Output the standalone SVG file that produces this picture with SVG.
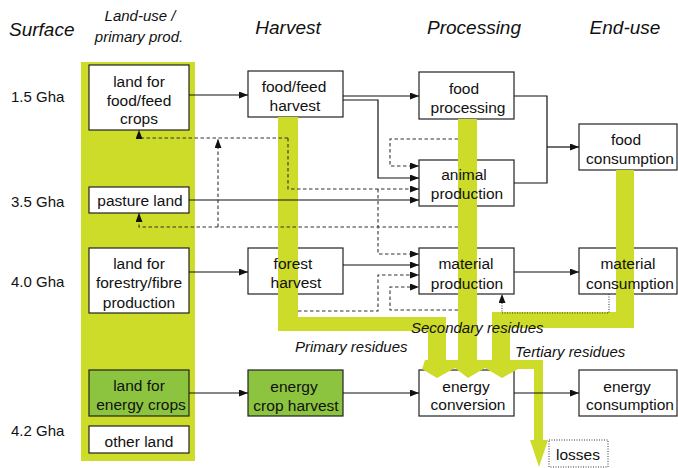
<svg xmlns="http://www.w3.org/2000/svg" width="678" height="468" viewBox="0 0 678 468">
<style>
.hdr{font-family:"Liberation Sans",Arial,sans-serif;font-style:italic;font-size:19px;fill:#111}
.sub{font-family:"Liberation Sans",Arial,sans-serif;font-style:italic;font-size:15px;fill:#111}
.gha{font-family:"Liberation Sans",Arial,sans-serif;font-size:15px;fill:#111}
.t{font-family:"Liberation Sans",Arial,sans-serif;font-size:15.5px;fill:#111;text-anchor:middle}
.res{font-family:"Liberation Sans",Arial,sans-serif;font-style:italic;font-size:15px;fill:#111}
.box{fill:#fff;stroke:#222;stroke-width:1.2}
.gbox{fill:#8cc43f;stroke:#222;stroke-width:1.2}
.band{fill:#cddc29}
.sol{fill:none;stroke:#111;stroke-width:1.2}
.dash{fill:none;stroke:#333;stroke-width:1.1;stroke-dasharray:3.5,2.5}
.dot{fill:none;stroke:#333;stroke-width:1;stroke-dasharray:1,1.5}
</style>
<defs>
<marker id="ah" viewBox="0 0 9 7" refX="9" refY="3.5" markerWidth="9" markerHeight="7" markerUnits="userSpaceOnUse" orient="auto">
<path d="M0,0 L9,3.5 L0,7 z" fill="#111"/>
</marker>
</defs>
<rect width="678" height="468" fill="#fff"/>

<g id="headers">
<text class="hdr" x="9" y="36">Surface</text>
<text class="sub" x="140" y="21" text-anchor="middle">Land-use /</text>
<text class="sub" x="139" y="42" text-anchor="middle">primary prod.</text>
<text class="hdr" x="288" y="34" text-anchor="middle">Harvest</text>
<text class="hdr" x="474" y="34" text-anchor="middle">Processing</text>
<text class="hdr" x="625" y="34" text-anchor="middle">End-use</text>
<text class="gha" x="11" y="102">1.5 Gha</text>
<text class="gha" x="11" y="207">3.5 Gha</text>
<text class="gha" x="11" y="287">4.0 Gha</text>
<text class="gha" x="11" y="436">4.2 Gha</text>
</g>

<rect id="landband" class="band" x="81" y="62" width="114" height="399"/>

<g id="boxes">
<rect class="box" x="89" y="65" width="100" height="65"/>
<rect class="box" x="89" y="187" width="100" height="26"/>
<rect class="box" x="89" y="248" width="100" height="65"/>
<rect class="gbox" x="89" y="370" width="100" height="46"/>
<rect class="box" x="89" y="426" width="100" height="27"/>
<rect class="box" x="248" y="71" width="95" height="46"/>
<rect class="box" x="248" y="248" width="95" height="46"/>
<rect class="gbox" x="248" y="370" width="95" height="46"/>
<rect class="box" x="419" y="72" width="95" height="47"/>
<rect class="box" x="419" y="160" width="95" height="46"/>
<rect class="box" x="419" y="248" width="95" height="46"/>
<rect class="box" x="419" y="370" width="95" height="46"/>
<rect class="box" x="579" y="124" width="98" height="46"/>
<rect class="box" x="579" y="248" width="98" height="46"/>
<rect class="box" x="579" y="370" width="98" height="46"/>
<rect class="dot" x="549" y="440" width="59" height="27"/>
</g>

<g id="residue-bands">
<path class="band" d="M278,117 H298 V317 H446 V362 H428 V331 H278 Z"/>
<rect class="band" x="458" y="119" width="19" height="243"/>
<path class="band" d="M616,170 H634 V328 H510 V362 H492 V312 H616 Z"/>
<path class="band" d="M425,360 H543 V440 H548 L539,467 L530,440 H534 V369 H518 L502,378 L485,368 L468,378 L455,368 L437,378 L422,369 Z"/>
</g>

<g id="connectors">
<path class="sol" d="M189,95 H248" marker-end="url(#ah)"/>
<path class="sol" d="M343,96 H419" marker-end="url(#ah)"/>
<path class="sol" d="M343,100 H378 V178 H419" marker-end="url(#ah)"/>
<path class="sol" d="M189,200 H419" marker-end="url(#ah)"/>
<path class="sol" d="M514,96 H547 V183 H514"/>
<path class="sol" d="M547,147 H579" marker-end="url(#ah)"/>
<path class="sol" d="M189,272 H248" marker-end="url(#ah)"/>
<path class="sol" d="M343,265 H419" marker-end="url(#ah)"/>
<path class="sol" d="M514,272 H579" marker-end="url(#ah)"/>
<path class="sol" d="M189,393 H248" marker-end="url(#ah)"/>
<path class="sol" d="M343,393 H419" marker-end="url(#ah)"/>
<path class="sol" d="M514,393 H579" marker-end="url(#ah)"/>
<path class="dash" d="M288,138 H139 V130" marker-end="url(#ah)"/>
<path class="dash" d="M288,138 V189 H419" marker-end="url(#ah)"/>
<path class="dash" d="M458,227 H139 V213" marker-end="url(#ah)"/>
<path class="dash" d="M218,227 V139" marker-end="url(#ah)"/>
<path class="dash" d="M458,139 H390 V166 H419" marker-end="url(#ah)"/>
<path class="dash" d="M378,189 V254 H419" marker-end="url(#ah)"/>
<path class="dash" d="M298,311 H378 V275 H419" marker-end="url(#ah)"/>
<path class="dash" d="M458,310 H390 V287 H419" marker-end="url(#ah)"/>
<path class="dot" d="M609,294 V313 H502 V294" marker-end="url(#ah)"/>
</g>

<g id="labels">
<text class="t" x="139" y="86.5">land for</text>
<text class="t" x="139" y="105.5">food/feed</text>
<text class="t" x="139" y="123.5">crops</text>
<text class="t" x="140" y="205.5">pasture land</text>
<text class="t" x="139" y="268.5">land for</text>
<text class="t" x="139" y="288">forestry/fibre</text>
<text class="t" x="139" y="307.5">production</text>
<text class="t" x="139" y="390.5">land for</text>
<text class="t" x="141" y="409.5">energy crops</text>
<text class="t" x="139" y="446.5">other land</text>
<text class="t" x="294" y="91.5">food/feed</text>
<text class="t" x="295" y="110.5">harvest</text>
<text class="t" x="293" y="268.5">forest</text>
<text class="t" x="296" y="287.5">harvest</text>
<text class="t" x="294" y="391.5">energy</text>
<text class="t" x="296" y="410.5">crop harvest</text>
<text class="t" x="464" y="93.5">food</text>
<text class="t" x="468" y="112.5">processing</text>
<text class="t" x="464" y="179.5">animal</text>
<text class="t" x="467" y="198.5">production</text>
<text class="t" x="466" y="268.5">material</text>
<text class="t" x="467" y="288.5">production</text>
<text class="t" x="466" y="391.5">energy</text>
<text class="t" x="468" y="409.5">conversion</text>
<text class="t" x="626" y="144.5">food</text>
<text class="t" x="630" y="163.5">consumption</text>
<text class="t" x="628" y="268.5">material</text>
<text class="t" x="630" y="288.5">consumption</text>
<text class="t" x="627" y="391.5">energy</text>
<text class="t" x="630" y="409.5">consumption</text>
<text class="t" x="578" y="460">losses</text>
<text class="res" x="295" y="352">Primary residues</text>
<text class="res" x="411" y="333">Secondary residues</text>
<text class="res" x="515" y="357">Tertiary residues</text>
</g>
</svg>
